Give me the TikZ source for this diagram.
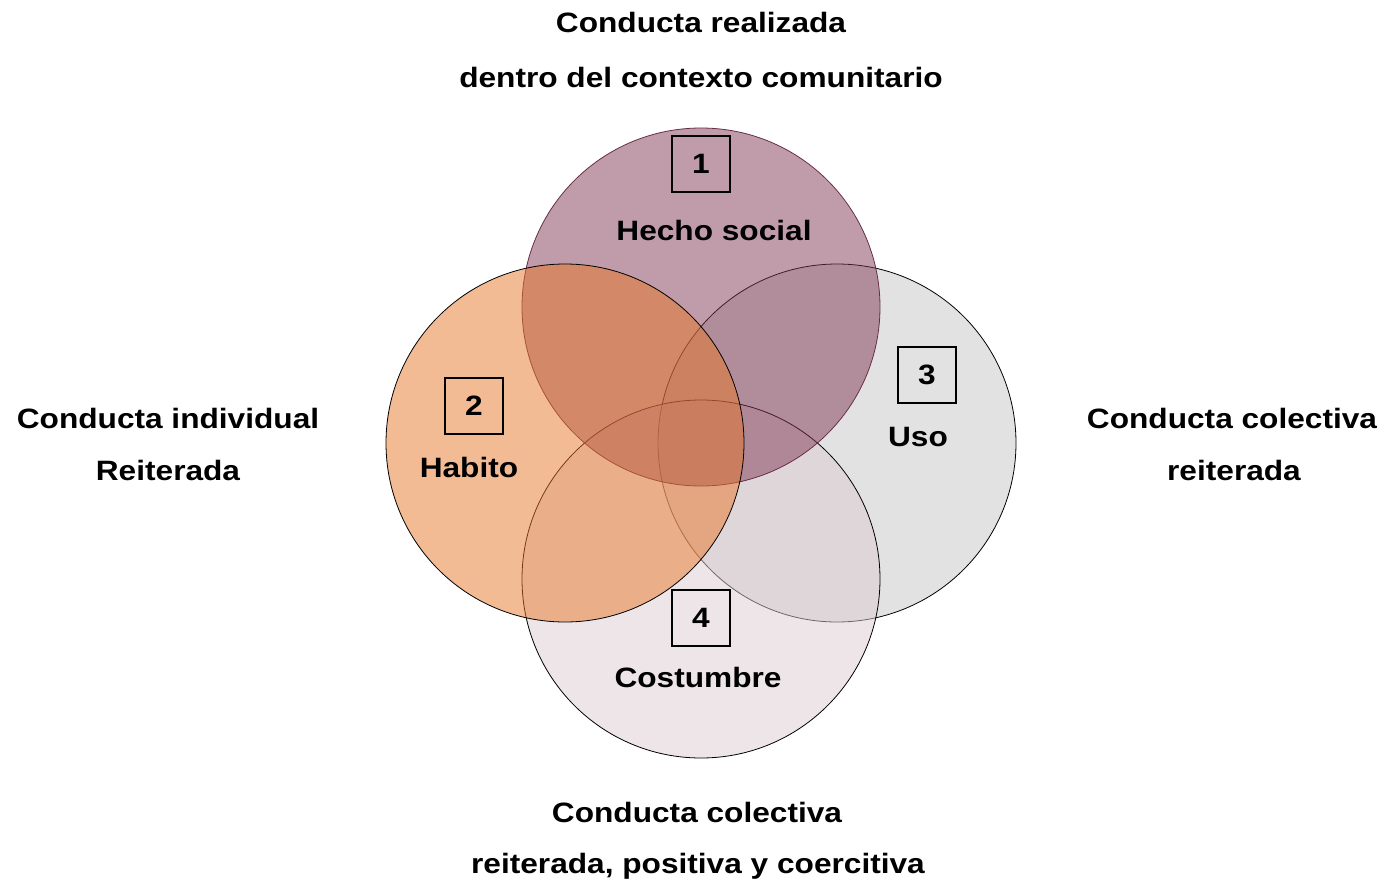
\documentclass[tikz,border=0pt]{standalone}
\usepackage{fontspec}
\setmainfont{Liberation Sans}[FakeStretch = 1.13]
\usepackage{xcolor}
\usepackage{tikz}

\definecolor{hechoC}{RGB}{129,57,85}
\definecolor{habitoC}{RGB}{231,119,41}
\definecolor{usoC}{RGB}{198,198,198}
\definecolor{costC}{RGB}{221,203,211}

\tikzset{
	circ/.style = {circle, minimum size = 358pt, inner sep = 0pt, line width = 0.8pt, fill opacity = 0.5, draw opacity = 1},
	numbox/.style = {draw, line width = 2pt, minimum width = 58pt, minimum height = 56pt, inner sep = 0pt, font = \fontsize{28}{34}\selectfont\bfseries},
	lbl/.style = {anchor = base, inner sep = 0pt, font = \fontsize{28}{34}\selectfont\bfseries}
}

\begin{document}
\begin{tikzpicture}[x = 1pt, y = -1pt]
			\useasboundingbox (0,0) rectangle (1382,883);

			\def\d{136};
			\def\cx{701};
			\def\cy{443};

			\begin{scope}
				\node [circ, fill = usoC, draw = black] (uso) at (\cx+\d,\cy) {};
				\node [circ, fill = costC, draw = black] (costumbre) at (\cx,\cy+\d) {};
				\node [circ, fill = hechoC, draw = hechoC!80!black] (hecho) at (\cx,\cy-\d) {};
				\node [circ, fill = habitoC, draw = black] (habito) at (\cx-\d,\cy) {};
			\end{scope}

			\begin{scope}
				\node [numbox] (n1) at (701,164) {1};
				\node [lbl] (tHecho) at (714,240) {Hecho social};

				\node [numbox] (n2) at (474,406) {2};
				\node [lbl] (tHabito) at (469,477) {Habito};

				\node [numbox] (n3) at (927,375) {3};
				\node [lbl] (tUso) at (918,446) {Uso};

				\node [numbox] (n4) at (701,618) {4};
				\node [lbl] (tCost) at (698,687) {Costumbre};
			\end{scope}

			\begin{scope}
				\node [lbl] (top1) at (701,33) {Conducta realizada};
				\node [lbl] (top2) at (701,88) {dentro del contexto comunitario};

				\node [lbl] (left1) at (168,428) {Conducta individual};
				\node [lbl] (left2) at (168,480) {Reiterada};

				\node [lbl] (right1) at (1232,428) {Conducta colectiva};
				\node [lbl] (right2) at (1234,480) {reiterada};

				\node [lbl] (bot1) at (697,822) {Conducta colectiva};
				\node [lbl] (bot2) at (698,873) {reiterada, positiva y coercitiva};
			\end{scope}
		\end{tikzpicture}
\end{document}
